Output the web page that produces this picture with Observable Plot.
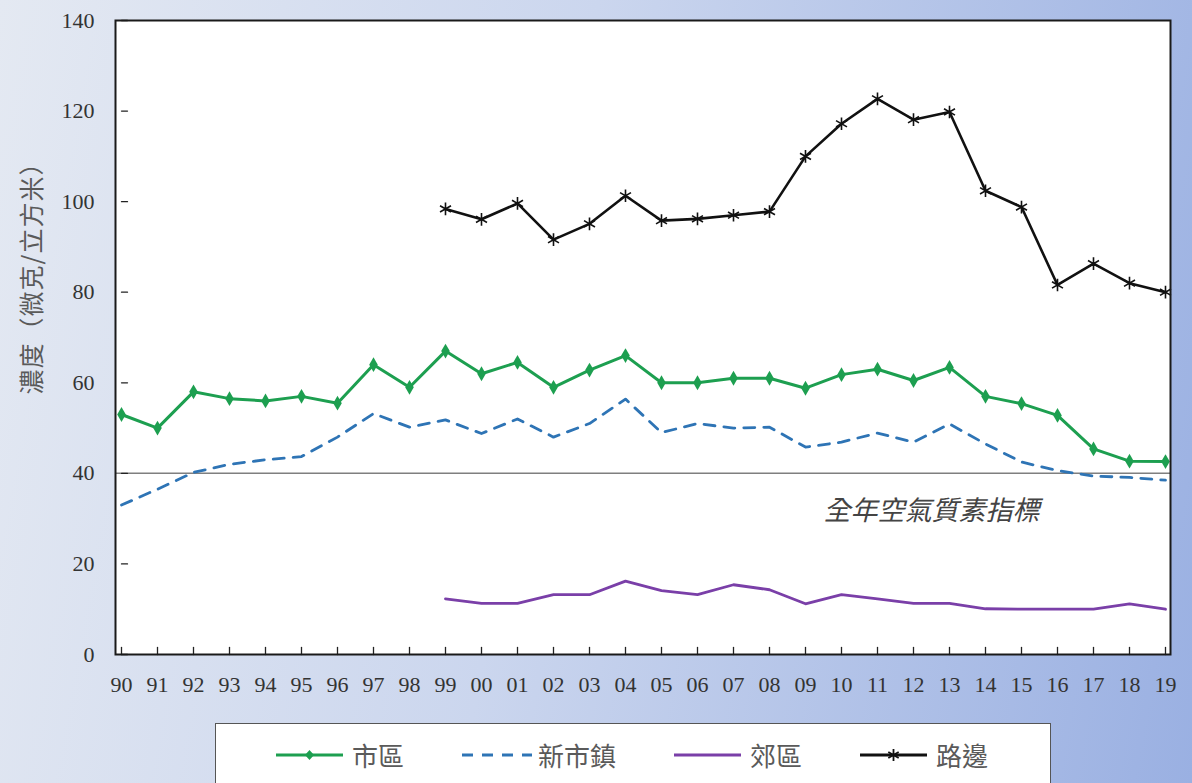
<!DOCTYPE html>
<html>
<head>
<meta charset="utf-8">
<script src="https://cdn.jsdelivr.net/npm/d3@7"></script>
<script src="https://cdn.jsdelivr.net/npm/@observablehq/plot@0.6"></script>
<style>
  html, body { margin: 0; padding: 0; width: 1192px; height: 783px; overflow: hidden; }
  body { background: linear-gradient(100deg, #e4e9f2 0%, #cbd6ee 45%, #9ab0e2 100%); position: relative;
         font-family: "Liberation Serif", "Noto Sans CJK TC", serif; }
  #chart { position: absolute; left: 0; top: 0; }
  #ytitle { position: absolute; left: 30px; top: 272px; transform: translate(-50%, -50%) rotate(-90deg);
            font-family: "Noto Sans CJK TC", sans-serif; font-size: 25px; letter-spacing: 1px; color: #5a5a5a; white-space: nowrap; }
  #legend { position: absolute; left: 215px; top: 723px; width: 836px; height: 90px; background: #fff;
            border: 1.5px solid #555; box-sizing: border-box; display: flex; align-items: flex-start;
            padding-left: 60px; padding-top: 12px; gap: 58px; }
  .item { display: flex; align-items: center; gap: 6px; font-family: "Noto Sans CJK TC", sans-serif;
          font-size: 26px; color: #5a5a5a; }
</style>
</head>
<body>
<div id="chart"></div>
<div id="ytitle">濃度（微克/立方米）</div>
<div id="legend"></div>
<script>
const years = ["90","91","92","93","94","95","96","97","98","99","00","01","02","03","04","05","06","07","08","09","10","11","12","13","14","15","16","17","18","19"];
const seriesNames = ["市區", "新市鎮", "郊區", "路邊"];
const urban =    [53, 50, 58, 56.5, 56, 57, 55.5, 64, 59, 67, 62, 64.5, 59, 62.8, 66, 60, 60, 61, 61, 58.8, 61.8, 63, 60.5, 63.4, 57, 55.4, 52.8, 45.4, 42.7, 42.6];
const newTown =  [33, 36.5, 40.2, 42, 43, 43.7, 48, 53.2, 50.2, 51.8, 48.8, 52, 48, 51, 56.4, 49, 51, 50, 50.2, 45.8, 46.9, 48.9, 46.9, 50.9, 46.5, 42.5, 40.6, 39.4, 39.1, 38.5];
const rural =    [null, null, null, null, null, null, null, null, null, 12.3, 11.3, 11.3, 13.2, 13.2, 16.2, 14.1, 13.2, 15.4, 14.3, 11.2, 13.2, 12.3, 11.3, 11.3, 10.1, 10, 10, 10, 11.2, 10];
const roadside = [null, null, null, null, null, null, null, null, null, 98.4, 96.1, 99.6, 91.6, 95.1, 101.3, 95.8, 96.2, 97, 97.8, 110, 117.2, 122.7, 118.1, 119.8, 102.4, 98.8, 81.6, 86.3, 82, 80];
const yTicks = [0, 20, 40, 60, 80, 100, 120, 140];
const aqoValue = [40];
const aqoLabel = "全年空氣質素指標";
const colors = ["#1d9f50", "#2e74b5", "#7a3fa8", "#111111"];

const values = [urban, newTown, rural, roadside];
const rows = [];
seriesNames.forEach((s, i) => years.forEach((yr, j) => {
  if (values[i][j] != null) rows.push({series: s, year: yr, value: values[i][j]});
}));
const bySeries = s => rows.filter(d => d.series === s);
const blank = () => "";
const tickLine = {draw(context, l) { context.moveTo(0, 0); context.lineTo(0, -l); }};

const chart = Plot.plot({
  width: 1192,
  height: 700,
  marginTop: 20,
  marginBottom: 46,
  marginLeft: 115,
  marginRight: 22,
  style: {background: "transparent", fontFamily: "'Liberation Serif', 'Noto Sans CJK TC', serif", color: "#333"},
  x: {type: "point", domain: years, padding: 0},
  y: {domain: [0, 140]},
  marks: [
    Plot.frame({fill: "white"}),
    Plot.ruleY(aqoValue, {stroke: "#7f7f7f", strokeWidth: 1.5}),
    Plot.line(bySeries("郊區"), {x: "year", y: "value", stroke: colors[2], strokeWidth: 2.8}),
    Plot.line(bySeries("新市鎮"), {x: "year", y: "value", stroke: colors[1], strokeWidth: 2.8, strokeDasharray: "11,9"}),
    Plot.line(bySeries("市區"), {x: "year", y: "value", stroke: colors[0], strokeWidth: 3}),
    Plot.dot(bySeries("市區"), {x: "year", y: "value", symbol: "diamond", r: 4.5, fill: colors[0]}),
    Plot.line(bySeries("路邊"), {x: "year", y: "value", stroke: colors[3], strokeWidth: 2.6}),
    Plot.dot(bySeries("路邊"), {x: "year", y: "value", symbol: "asterisk", r: 6, stroke: colors[3], strokeWidth: 1.6}),
    Plot.text([aqoLabel], {x: () => "12", y: () => 31.5, dx: 18, text: d => d, fontSize: 27, fontStyle: "italic",
      fill: "#444", fontFamily: "'Noto Sans CJK TC', sans-serif", textAnchor: "middle"}),
    // inward tick marks
    Plot.vector(years, {x: d => d, y: () => 0, length: 7, rotate: 0, anchor: "start", shape: tickLine, stroke: "#222", strokeWidth: 1.3}),
    Plot.vector(yTicks, {x: () => "90", y: d => d, length: 6, rotate: 90, anchor: "start", shape: tickLine, stroke: "#222", strokeWidth: 1.3}),
    // tick labels
    Plot.axisX({tickSize: 0, tickPadding: 22, fontSize: 22, label: null}),
    Plot.axisY({ticks: yTicks, tickSize: 0, tickPadding: 21, fontSize: 22, label: null}),
    Plot.frame({stroke: "#1a1a1a", strokeWidth: 2})
  ]
});
document.getElementById("chart").appendChild(chart);

// Legend
const legend = document.getElementById("legend");
const symbolSvg = [
  `<line x1="0" y1="10" x2="67" y2="10" stroke="${colors[0]}" stroke-width="3"/><path d="M33.5,5 L38,10 L33.5,15 L29,10Z" fill="${colors[0]}"/>`,
  `<line x1="0" y1="10" x2="70" y2="10" stroke="${colors[1]}" stroke-width="3" stroke-dasharray="11,9"/>`,
  `<line x1="0" y1="10" x2="67" y2="10" stroke="${colors[2]}" stroke-width="3"/>`,
  `<line x1="0" y1="10" x2="67" y2="10" stroke="${colors[3]}" stroke-width="3"/><g stroke="${colors[3]}" stroke-width="1.8"><line x1="33.5" y1="4" x2="33.5" y2="16"/><line x1="28.3" y1="7" x2="38.7" y2="13"/><line x1="28.3" y1="13" x2="38.7" y2="7"/></g>`
];
seriesNames.forEach((s, i) => {
  const el = document.createElement("div");
  el.className = "item";
  el.innerHTML = `<svg width="70" height="20">${symbolSvg[i]}</svg><span>${s}</span>`;
  legend.appendChild(el);
});
</script>
</body>
</html>
